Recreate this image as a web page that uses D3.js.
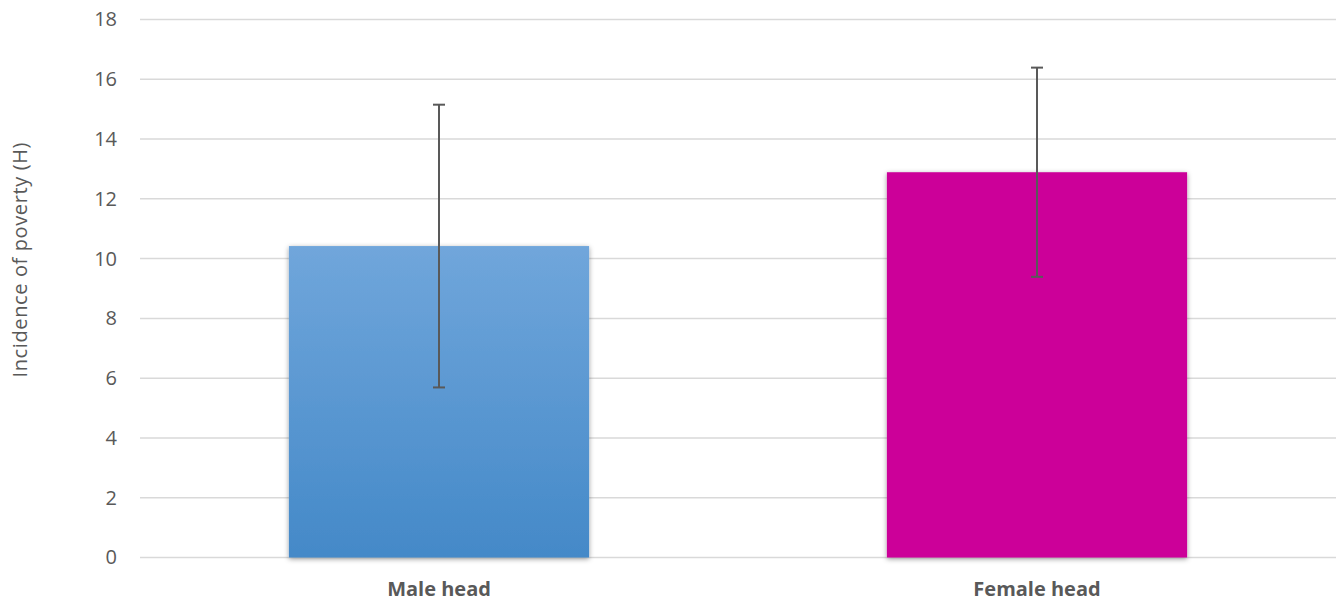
<!DOCTYPE html>
<html>
<head>
<meta charset="utf-8">
<script src="https://cdn.jsdelivr.net/npm/d3@7"></script>
<style>
  html, body { margin: 0; padding: 0; background: #fff; }
  svg { display: block; }
  text { font-family: "Open Sans", "Liberation Sans", sans-serif; fill: #595959; }
</style>
</head>
<body>
<svg id="chart" width="1336" height="600"></svg>
<script>
const categories = ["Male head", "Female head"];
const values = [10.42, 12.89];
const errors = [4.73, 3.5];
const yTicks = [0, 2, 4, 6, 8, 10, 12, 14, 16, 18];
const yTitle = "Incidence of poverty (H)";

const svg = d3.select("#chart");
const margin = { left: 140, right: 0, top: 19.5, bottom: 42.5 };
const W = 1336, H = 600;

const x = d3.scaleBand().domain(categories)
  .range([margin.left, W - margin.right])
  .paddingInner(0.498).paddingOuter(0.249);
const y = d3.scaleLinear().domain([0, 18]).range([H - margin.bottom, margin.top]);

const defs = svg.append("defs");
const grad = defs.append("linearGradient").attr("id", "maleGrad")
  .attr("x1", 0).attr("y1", 0).attr("x2", 0).attr("y2", 1);
grad.append("stop").attr("offset", "0%").attr("stop-color", "#70a6db");
grad.append("stop").attr("offset", "100%").attr("stop-color", "#4489c8");
const f = defs.append("filter").attr("id", "shadow")
  .attr("x", "-10%").attr("y", "-10%").attr("width", "120%").attr("height", "120%");
f.append("feDropShadow").attr("dx", 0).attr("dy", 1.5).attr("stdDeviation", 2.5)
  .attr("flood-color", "#000").attr("flood-opacity", 0.4);

const fills = ["url(#maleGrad)", "#cc0099"];

// gridlines
svg.append("g").selectAll("line").data(yTicks).join("line")
  .attr("x1", margin.left).attr("x2", W)
  .attr("y1", d => y(d)).attr("y2", d => y(d))
  .attr("stroke", "#d9d9d9").attr("stroke-width", 1.5);

// y axis labels
const yAxis = d3.axisLeft(y).tickValues(yTicks).tickSize(0).tickPadding(0);
const gy = svg.append("g").attr("transform", `translate(117,0)`).call(yAxis);
gy.select(".domain").remove();
gy.selectAll("text").attr("font-size", 20).attr("fill", "#595959")
  .style("font-family", "'Open Sans', sans-serif");

// bars
svg.append("g").selectAll("rect").data(categories).join("rect")
  .attr("x", d => x(d)).attr("width", x.bandwidth())
  .attr("y", (d, i) => y(values[i]))
  .attr("height", (d, i) => y(0) - y(values[i]))
  .attr("fill", (d, i) => fills[i])
  .attr("filter", "url(#shadow)");

// error bars
const eg = svg.append("g").attr("stroke", "#595959").attr("stroke-width", 2);
categories.forEach((c, i) => {
  const cx = x(c) + x.bandwidth() / 2;
  const hi = y(values[i] + errors[i]), lo = y(values[i] - errors[i]);
  eg.append("line").attr("x1", cx).attr("x2", cx).attr("y1", hi).attr("y2", lo);
  eg.append("line").attr("x1", cx - 6).attr("x2", cx + 6).attr("y1", hi).attr("y2", hi);
  eg.append("line").attr("x1", cx - 6).attr("x2", cx + 6).attr("y1", lo).attr("y2", lo);
});

// x axis labels
const xAxis = d3.axisBottom(x).tickSize(0).tickPadding(0);
const gx = svg.append("g").attr("transform", `translate(0,${y(0)})`).call(xAxis);
gx.select(".domain").remove();
gx.selectAll("text").attr("font-size", 20).attr("font-weight", "bold")
  .attr("y", 38).attr("dy", "0").attr("fill", "#595959")
  .style("font-family", "'Open Sans', sans-serif");

// y title
svg.append("text")
  .attr("transform", `translate(27,260) rotate(-90)`)
  .attr("text-anchor", "middle").attr("font-size", 20)
  .attr("textLength", 235).attr("lengthAdjust", "spacing")
  .text(yTitle);
</script>
</body>
</html>
